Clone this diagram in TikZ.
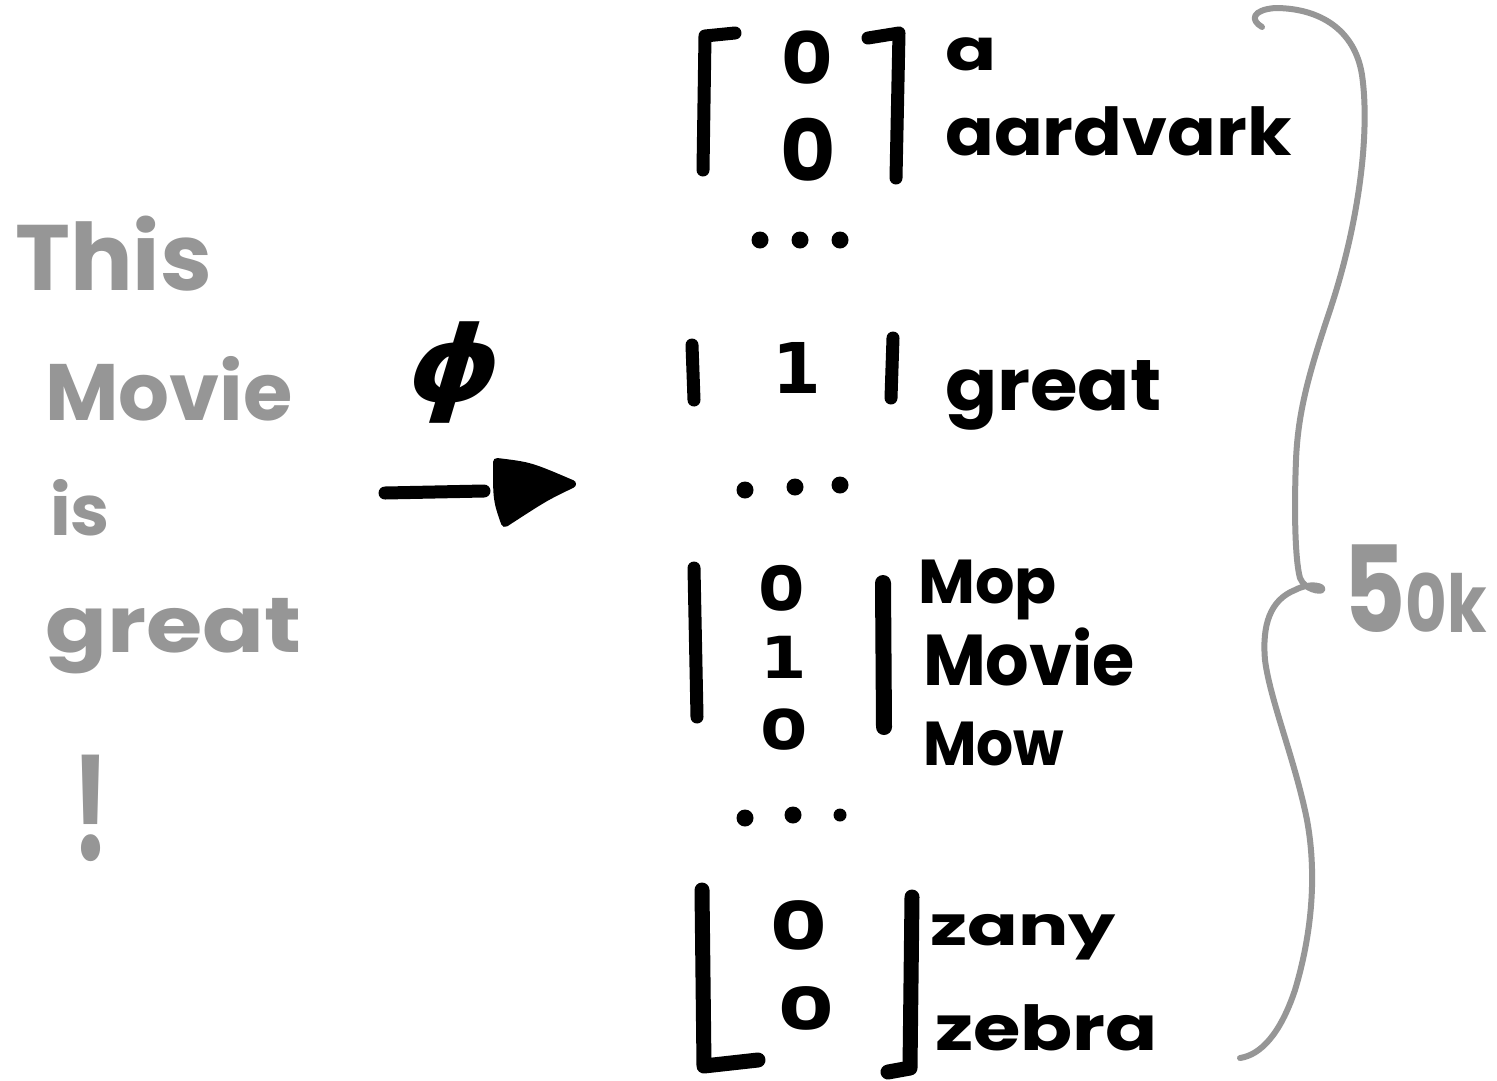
\documentclass[tikz,border=0pt]{standalone}
\usepackage{fontspec}
\setmainfont{Poppins}
\newfontfamily\onefont{DejaVu Sans}
\definecolor{handgray}{RGB}{150,150,150}
\newcommand\hs[1]{\fontsize{#1}{#1}\selectfont}
\begin{document}
\begin{tikzpicture}[x=1pt,y=-1pt,
  ink/.style={line width=13pt, line cap=round, line join=round},
  word/.style={inner sep=0pt, anchor=base west, font=\bfseries},
  digit/.style={inner sep=0pt, anchor=center, font=\bfseries},
  pale/.style={text=handgray},
  dot/.style={circle, fill=black, inner sep=0pt, minimum size=17pt},
  brace/.style={draw=handgray, line width=6pt, line cap=round, line join=round}]
\fill[white] (0,0) rectangle (1497,1080);
\useasboundingbox (0,0) rectangle (1497,1080);

% the sentence, one word per line
\node[word,pale] (wThis) at (15,290) {\hs{93}This};
\node[word,pale] (wMovie) at (45,420) {\hs{80}Movie};
\node[word,pale] (wIs) at (50,535) {\hs{70}is};
\node[word,pale,xscale=1.17] (wGreat) at (45,652) {\hs{78}great};
\node[word,pale,xscale=0.65] (wBang) at (72,860) {\hs{145}!};

% feature map and its arrow
\node[inner sep=0pt, font=\onefont\bfseries, xslant=0.3, xscale=1.1] (phi) at (455,373) {\hs{105}ϕ};
\coordinate (tail) at (385,493);
\coordinate (neck) at (484,491);
\coordinate (tip) at (572,484);
\draw[ink] (tail) -- (neck);
\filldraw[ink, line width=8pt] (497,462) .. controls (530,466) .. (tip)
  .. controls (545,497) .. (505,523) .. controls (497,500) .. cycle;

% top block: a, aardvark
\draw[ink] (735,33) -- (705,36) -- (703,170);
\draw[ink] (868,38) -- (899,33) -- (896,178);
\node[digit,xscale=1.1] (v1) at (807,58) {\hs{72}0};
\node[digit] (v2) at (808,150) {\hs{85}0};
\node[word,xscale=1.3] (la) at (945,70) {\hs{58}a};
\node[word,xscale=1.09] (laard) at (945,155) {\hs{66}aardvark};
\node[dot] (d1a) at (760,240) {};
\node[dot] (d1b) at (800,240) {};
\node[dot] (d1c) at (840,240) {};

% great row
\draw[ink] (692,345) -- (694,400);
\draw[ink] (893,338) -- (891,398);
\node[digit] (vg) at (797,368) {\hs{70}\onefont 1};
\node[word,xscale=1.07] (lgreat) at (945,410) {\hs{72}great};
\node[dot] (d2a) at (745,490) {};
\node[dot] (d2b) at (795,487) {};
\node[dot] (d2c) at (840,485) {};

% middle block: Mop, Movie, Mow
\draw[ink] (694,568) -- (697,717);
\draw[ink, line width=16pt] (883,583) -- (884,727);
\node[digit,xscale=1.15] (vm1) at (782,588) {\hs{62}0};
\node[digit,xscale=1.15] (vm2) at (784,657) {\hs{58}\onefont 1};
\node[digit,xscale=1.3] (vm3) at (784,730) {\hs{56}0};
\node[word] (lmop) at (918,603) {\hs{62}Mop};
\node[word,xscale=0.95] (lmovie) at (923,685) {\hs{72}Movie};
\node[word,xscale=0.94] (lmow) at (923,765) {\hs{62}Mow};
\node[dot] (d3a) at (745,818) {};
\node[dot] (d3b) at (793,815) {};
\node[dot, minimum size=13pt] (d3c) at (840,815) {};

% bottom block: zany, zebra
\draw[ink, line width=15pt] (702,890) -- (704,1066) -- (758,1060);
\draw[ink, line width=15pt] (912,897) -- (910,1068) -- (888,1072);
\node[digit,xscale=1.3] (vz1) at (799,926) {\hs{67}0};
\node[digit,xscale=1.45] (vz2) at (806,1009) {\hs{59}0};
\node[word,xscale=1.36] (lzany) at (930,945) {\hs{55}zany};
\node[word,xscale=1.24] (lzebra) at (935,1050) {\hs{62}zebra};

% vocabulary size brace
\draw[brace] (1262,27) .. controls (1250,20) and (1252,10) .. (1275,8)
  .. controls (1320,8) and (1355,30) .. (1362,75)
  .. controls (1370,130) and (1360,220) .. (1330,310)
  .. controls (1310,370) and (1298,410) .. (1296,460)
  .. controls (1294,510) and (1295,560) .. (1300,578)
  .. controls (1305,590) and (1320,592) .. (1322,590)
  .. controls (1325,586) and (1310,582) .. (1295,590)
  .. controls (1270,600) and (1262,625) .. (1265,660)
  .. controls (1270,700) and (1295,760) .. (1307,820)
  .. controls (1318,880) and (1310,940) .. (1295,990)
  .. controls (1280,1035) and (1260,1055) .. (1240,1058);
\node[word,pale,xscale=0.8] (lsize) at (1343,632) {\hs{120}5\hs{80}0k};
\end{tikzpicture}
\end{document}
